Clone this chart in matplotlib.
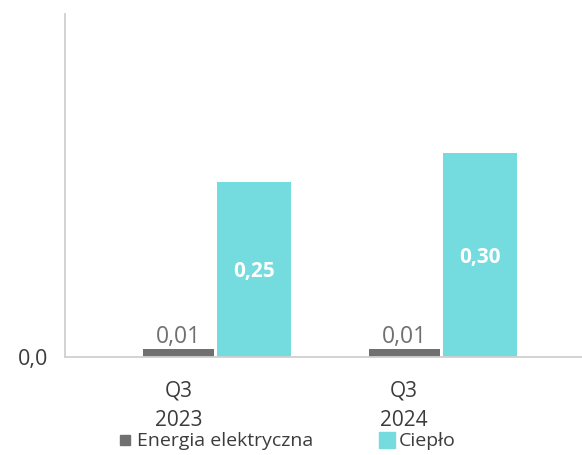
import matplotlib.pyplot as plt
from matplotlib.lines import Line2D
import numpy as np

quarters = ["Q3\n2023", "Q3\n2024"]
energia = [0.011, 0.011]
cieplo = [0.255, 0.297]
energia_lbl = ["0,01", "0,01"]
cieplo_lbl = ["0,25", "0,30"]

c_gray = "#707070"
c_cyan = "#74dbdf"
c_text = "#3c3c3c"

plt.rcParams['font.family'] = ['Open Sans', 'DejaVu Sans']

fig = plt.figure(figsize=(5.82, 4.55), dpi=100)
ax = fig.add_axes([0.1117, 0.2154, 0.8883, 0.7536])

x = np.arange(len(quarters))
ax.bar(x, energia, 0.315, color=c_gray)
ax.bar(x + 0.335, cieplo, 0.328, color=c_cyan)

for i in range(len(x)):
    ax.text(x[i], energia[i] + 0.0005, energia_lbl[i], ha='center', va='bottom',
            fontsize=16.5, color=c_gray)
    ax.text(x[i] + 0.335, cieplo[i] / 2 - 0.003, cieplo_lbl[i], ha='center', va='center',
            fontsize=15, color='white', fontweight='bold')

ax.set_xlim(-0.503, 1.789)
ax.set_ylim(0, 0.5)
ax.set_yticks([0])
ax.set_yticklabels(["0,0"], fontsize=15.5, color=c_text)
ax.set_xticks(x)
ax.set_xticklabels(quarters, fontsize=15, color=c_text, linespacing=1.5)
ax.tick_params(length=0, axis='x', pad=17)
ax.tick_params(length=0, axis='y', pad=12)

for s in ['top', 'right']:
    ax.spines[s].set_visible(False)
for s in ['left', 'bottom']:
    ax.spines[s].set_color('#d0d0d0')
    ax.spines[s].set_linewidth(1.3)

handles = [Line2D([], [], marker='s', ls='', color=c_gray, markersize=7),
           Line2D([], [], marker='s', ls='', color=c_cyan, markersize=11)]
fig.legend(handles, ["Energia elektryczna", "Ciepło"], ncol=2, frameon=False,
           loc='center', bbox_to_anchor=(0.494, 0.03), fontsize=14,
           handlelength=0.6, handletextpad=0.3, columnspacing=3.5,
           labelcolor=c_text)

fig.savefig('out.png', dpi=100)
